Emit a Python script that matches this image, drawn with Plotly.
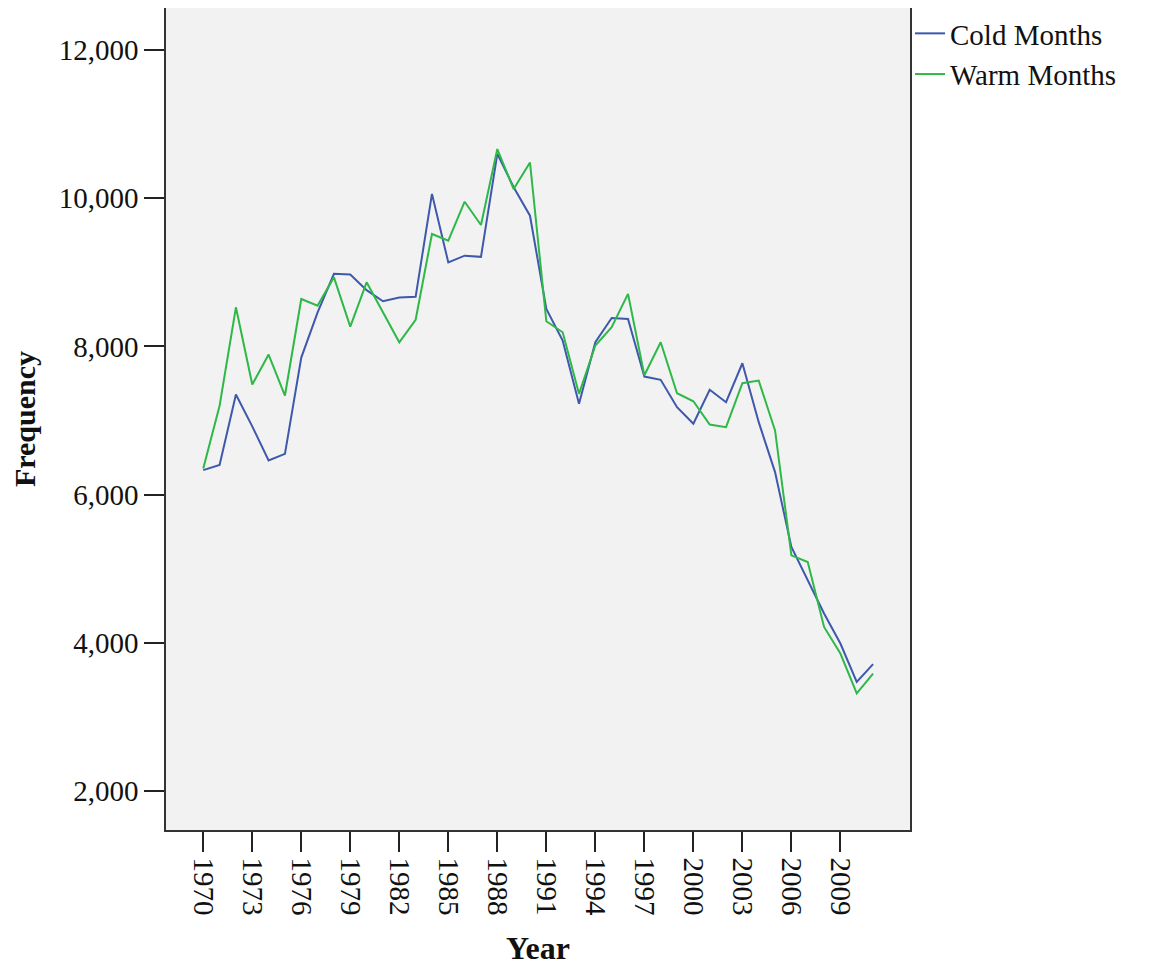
import plotly.graph_objects as go

years = list(range(1970, 2012))
cold_months = [6330, 6400, 7350, 6920, 6460, 6550, 7850, 8460, 8980, 8970,
               8760, 8610, 8660, 8670, 10060, 9135, 9226, 9210, 10600, 10150,
               9765, 8507, 8080, 7225, 8056, 8385, 8372, 7593, 7549, 7180,
               6956, 7414, 7247, 7773, 6977, 6303, 5291, 4842, 4393, 3988,
               3470, 3709]
warm_months = [6350, 7200, 8528, 7486, 7890, 7337, 8641, 8551, 8933, 8268,
               8866, 8461, 8056, 8360, 9518, 9428, 9954, 9640, 10665, 10125,
               10484, 8340, 8191, 7360, 8012, 8259, 8709, 7610, 8056, 7368,
               7260, 6946, 6910, 7503, 7539, 6865, 5179, 5089, 4212, 3853,
               3314, 3583]
x_tickvals = list(range(1970, 2010, 3))
y_tickvals = [2000, 4000, 6000, 8000, 10000, 12000]

FONT = "Liberation Serif"

fig = go.Figure()
fig.add_trace(go.Scatter(x=years, y=cold_months, mode="lines", name="Cold Months",
                         line=dict(color="#3E58AC", width=2)))
fig.add_trace(go.Scatter(x=years, y=warm_months, mode="lines", name="Warm Months",
                         line=dict(color="#2EB848", width=2)))

fig.update_layout(
    width=1157, height=966,
    margin=dict(l=158, r=255, t=0, b=144, autoexpand=False),
    paper_bgcolor="white",
    plot_bgcolor="#F2F2F2",
    font=dict(family=FONT, color="#111111"),
    legend=dict(x=1.0, xanchor="left", y=1.0, yanchor="top",
                font=dict(family=FONT, size=29, color="#111111"),
                bgcolor="rgba(0,0,0,0)", tracegroupgap=0, itemwidth=30),
    showlegend=True,
)
fig.update_xaxes(
    range=[1967.72, 2013.26], tickvals=x_tickvals, tickangle=90,
    ticks="outside", ticklen=20, tickwidth=1.5, tickcolor="#222222",
    showline=True, linecolor="#333333", linewidth=1.5, mirror=True,
    showgrid=False, zeroline=False, automargin=False,
    tickfont=dict(family=FONT, size=29, color="#111111"),
    title=dict(text="<b>Year</b>", font=dict(family=FONT, size=32, color="#111111"), standoff=22),
)
fig.update_yaxes(
    range=[1470, 12570], tickvals=y_tickvals, tickformat=",",
    ticks="outside", ticklen=20, tickwidth=1.5, tickcolor="#222222",
    showline=True, linecolor="#333333", linewidth=1.5, mirror=True,
    showgrid=False, zeroline=False, automargin=False,
    tickfont=dict(family=FONT, size=29, color="#111111"),
    title=dict(text="<b>Frequency</b>", font=dict(family=FONT, size=30, color="#111111"), standoff=16),
)

fig.write_html("out.html")
